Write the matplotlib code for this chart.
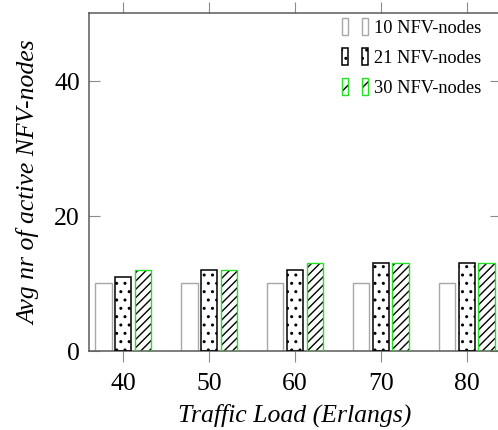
import numpy as np
import matplotlib
matplotlib.use("Agg")
import matplotlib.pyplot as plt
from matplotlib.patches import Rectangle
from matplotlib.legend_handler import HandlerBase

# Traffic load (Erlangs) and average number of active NFV-nodes
loads = [40, 50, 60, 70, 80]
nodes_10 = [10, 10, 10, 10, 10]
nodes_21 = [11, 12, 12, 13, 13]
nodes_30 = [12, 12, 13, 13, 13]
series_labels = ["10 NFV-nodes", "21 NFV-nodes", "30 NFV-nodes"]
yticks = [0, 20, 40]

plt.rcParams['font.family'] = ['Liberation Serif', 'DejaVu Serif']
plt.rcParams['mathtext.fontset'] = 'stix'

W, H = 498, 431
fig = plt.figure(figsize=(W / 100, H / 100), dpi=100)
left, right, top, bottom = 89, 501, 14, 352
ax = fig.add_axes([left / W, (H - bottom) / H, (right - left) / W, (bottom - top) / H])

GREEN = '#22e022'
GRAY_EDGE = '#a8a8a8'
x = np.array(loads, dtype=float)
width = 1.9
offset = 2.3

styles = [
    dict(face='white', edge=GRAY_EDGE, hatch=None, key_hatch=None, hatch_color=None, lw=1.0),
    dict(face='white', edge='black', hatch='..', key_hatch='..', hatch_color='black', lw=1.1),
    dict(face='white', edge=GREEN, hatch='////', key_hatch='//', hatch_color='black', lw=1.0),
]

def draw_bars(xs, heights, st):
    if st['hatch'] is not None:
        ax.bar(xs, heights, width, facecolor=st['face'], edgecolor=st['hatch_color'],
               hatch=st['hatch'], linewidth=0, zorder=2)
        ax.bar(xs, heights, width, fill=False, edgecolor=st['edge'],
               linewidth=st['lw'], zorder=3)
    else:
        ax.bar(xs, heights, width, facecolor=st['face'], edgecolor=st['edge'],
               linewidth=st['lw'], zorder=2)

for i, (vals, st) in enumerate(zip([nodes_10, nodes_21, nodes_30], styles)):
    draw_bars(x + (i - 1) * offset, vals, st)

ax.set_xlim(36, 84)
ax.set_ylim(0, 50)
ax.set_xticks(loads)
ax.set_yticks(yticks)

for sp in ax.spines.values():
    sp.set_color('#5a5a5a')
    sp.set_linewidth(1.1)

ax.tick_params(axis='x', which='both', direction='out', length=8, width=0.8,
               color='#8a8a8a', top=True, bottom=True, labelsize=18.5, pad=7)
ax.tick_params(axis='y', which='both', direction='in', length=8, width=0.8,
               color='#8a8a8a', left=True, right=True, labelsize=18.5, pad=6.5)

ax.set_xlabel('Traffic Load (Erlangs)', fontsize=18.5, style='italic', labelpad=6)
ax.set_ylabel('Avg nr of active NFV-nodes', fontsize=18.5, style='italic', labelpad=10)


class PairBarHandler(HandlerBase):
    """Legend key drawn as two small bars in the series style."""
    def __init__(self, st):
        super().__init__()
        self.st = st

    def create_artists(self, legend, orig_handle, xdescent, ydescent, width_, height_,
                       fontsize, trans):
        st = self.st
        bw = width_ * 0.24
        bh = height_ * 1.3
        y0 = -ydescent - height_ * 0.2
        arts = []
        for xs in (-xdescent, -xdescent + width_ - bw):
            if st['key_hatch'] is not None:
                p = Rectangle((xs, y0), bw, bh, facecolor='white', edgecolor=st['hatch_color'],
                              hatch=st['key_hatch'], linewidth=0, transform=trans)
                arts.append(p)
            q = Rectangle((xs, y0), bw, bh, fill=False, edgecolor=st['edge'],
                          linewidth=st['lw'], transform=trans)
            arts.append(q)
        return arts


proxies = [Rectangle((0, 0), 1, 1) for _ in styles]
handler_map = {p: PairBarHandler(st) for p, st in zip(proxies, styles)}
leg = ax.legend(proxies, series_labels, handler_map=handler_map,
                loc='upper left', bbox_to_anchor=(342 / W, (H - 20) / H),
                bbox_transform=fig.transFigure, frameon=False, fontsize=13.2,
                handlelength=1.4, handletextpad=0.35, labelspacing=0.72,
                borderpad=0, borderaxespad=0)

fig.savefig('out.png', dpi=100)
